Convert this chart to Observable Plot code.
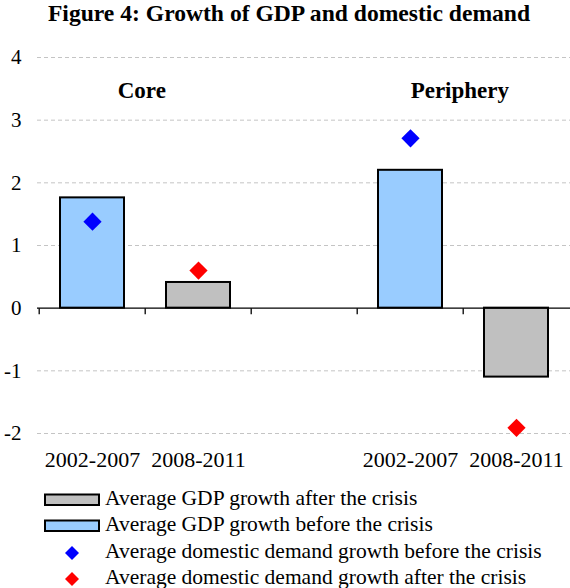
<!DOCTYPE html>
<html>
<head>
<meta charset="utf-8">
<script src="https://cdn.jsdelivr.net/npm/d3@7"></script>
<script src="https://cdn.jsdelivr.net/npm/@observablehq/plot@0.6"></script>
<style>
  body { margin: 0; background: #fff; }
  #wrap { position: relative; width: 570px; height: 588px; overflow: hidden;
          font-family: "Liberation Serif", "Times New Roman", serif; color: #000; }
  #title { position: absolute; left: 0; top: 0; width: 578px; text-align: center;
           font-weight: bold; font-size: 23.6px; line-height: normal; }
  #chart { position: absolute; left: 0; top: 0; }
  .row { position: absolute; left: 0; height: 26px; width: 570px; white-space: nowrap; font-size: 21.5px; }
  .row svg { position: absolute; left: 0; top: 0; }
  .row span { position: absolute; left: 105px; top: 0; line-height: 26px; }
</style>
</head>
<body>
<div id="wrap">
  <div id="title">Figure 4: Growth of GDP and domestic demand</div>
  <div id="chart"></div>
  <div id="legend"></div>
</div>
<script>
// Slots along the x axis: two periods per region, with an empty slot between regions
const slots = ["core-pre", "core-post", "gap", "periphery-pre", "periphery-post"];
const barSlots = ["core-pre", "core-post", "periphery-pre", "periphery-post"];
const periods = ["2002-2007", "2008-2011", "2002-2007", "2008-2011"];
const crisisPhase = ["before", "after", "before", "after"];
const gdpGrowth = [1.76, 0.41, 2.20, -1.10];
const domesticDemandGrowth = [1.38, 0.60, 2.71, -1.91];
const regions = ["Core", "Periphery"];
const regionSlots = ["core-pre", "periphery-pre"];
const yTicks = [-2, -1, 0, 1, 2, 3, 4];

const colors = {
  gdpBefore: "#99ccff",
  gdpAfter: "#c0c0c0",
  demandBefore: "#0000ff",
  demandAfter: "#ff0000"
};

const width = 570, marginLeft = 37, marginRight = 0;
const step = (width - marginLeft - marginRight) / slots.length;

// Short downward tick drawn at the zero line at each slot boundary
const tickMark = { draw(ctx) { ctx.moveTo(0, 0); ctx.lineTo(0, 6); } };

const isBefore = (d, i) => crisisPhase[i] === "before";
const isAfter = (d, i) => crisisPhase[i] === "after";

const chart = Plot.plot({
  width,
  height: 475,
  marginTop: 57,
  marginBottom: 42,
  marginLeft,
  marginRight,
  style: { fontFamily: "'Liberation Serif', 'Times New Roman', serif", fontSize: "21px", color: "#000", background: "transparent" },
  x: { domain: slots, paddingInner: 0.4, paddingOuter: 0.2, axis: null },
  y: { domain: [-2, 4], axis: null },
  marks: [
    Plot.gridY(yTicks.filter(d => d !== 0), { stroke: "#c4c4c4", strokeOpacity: 1, strokeDasharray: "4,3", strokeWidth: 1 }),
    Plot.axisY(yTicks, { tickSize: 0, tickPadding: 16, fontSize: 21, textAnchor: "end", tickFormat: d => String(d) }),
    Plot.barY(barSlots, { x: barSlots, y: gdpGrowth, filter: isBefore, fill: colors.gdpBefore, stroke: "#000", strokeWidth: 2 }),
    Plot.barY(barSlots, { x: barSlots, y: gdpGrowth, filter: isAfter, fill: colors.gdpAfter, stroke: "#000", strokeWidth: 2 }),
    Plot.ruleY([0], { stroke: "#000", strokeWidth: 1.3 }),
    Plot.dot(slots, { x: slots, y: 0, symbol: tickMark, r: 1, stroke: "#000", strokeWidth: 1.3, fill: "none", dx: -step / 2 }),
    Plot.dot(barSlots, { x: barSlots, y: domesticDemandGrowth, filter: isBefore, symbol: "diamond2", r: 8.2, fill: colors.demandBefore, stroke: "none" }),
    Plot.dot(barSlots, { x: barSlots, y: domesticDemandGrowth, filter: isAfter, symbol: "diamond2", r: 8.2, fill: colors.demandAfter, stroke: "none" }),
    Plot.text(periods, { x: barSlots, y: -2, text: periods, dy: 26, fontSize: 22 }),
    Plot.text(regions, { x: regionSlots, text: regions, frameAnchor: "top", lineAnchor: "middle", dy: 33, dx: step / 2 - 4, fontSize: 23, fontWeight: "bold" })
  ]
});
document.getElementById("chart").appendChild(chart);

// Legend
const legendItems = [
  { label: "Average GDP growth after the crisis", kind: "bar", color: colors.gdpAfter },
  { label: "Average GDP growth before the crisis", kind: "bar", color: colors.gdpBefore },
  { label: "Average domestic demand growth before the crisis", kind: "diamond", color: colors.demandBefore },
  { label: "Average domestic demand growth after the crisis", kind: "diamond", color: colors.demandAfter }
];
const legendTops = [485, 511, 538, 564];
const legend = document.getElementById("legend");
legendItems.forEach((item, i) => {
  const row = document.createElement("div");
  row.className = "row";
  row.style.top = legendTops[i] + "px";
  const swatch = item.kind === "bar"
    ? `<svg width="104" height="26"><rect x="45" y="9.5" width="54" height="10.5" fill="${item.color}" stroke="#000" stroke-width="2"/></svg>`
    : `<svg width="104" height="26"><path d="${d3.symbol(d3.symbolDiamond2, 125)()}" transform="translate(72,15)" fill="${item.color}"/></svg>`;
  row.innerHTML = swatch + `<span>${item.label}</span>`;
  legend.appendChild(row);
});
</script>
</body>
</html>
